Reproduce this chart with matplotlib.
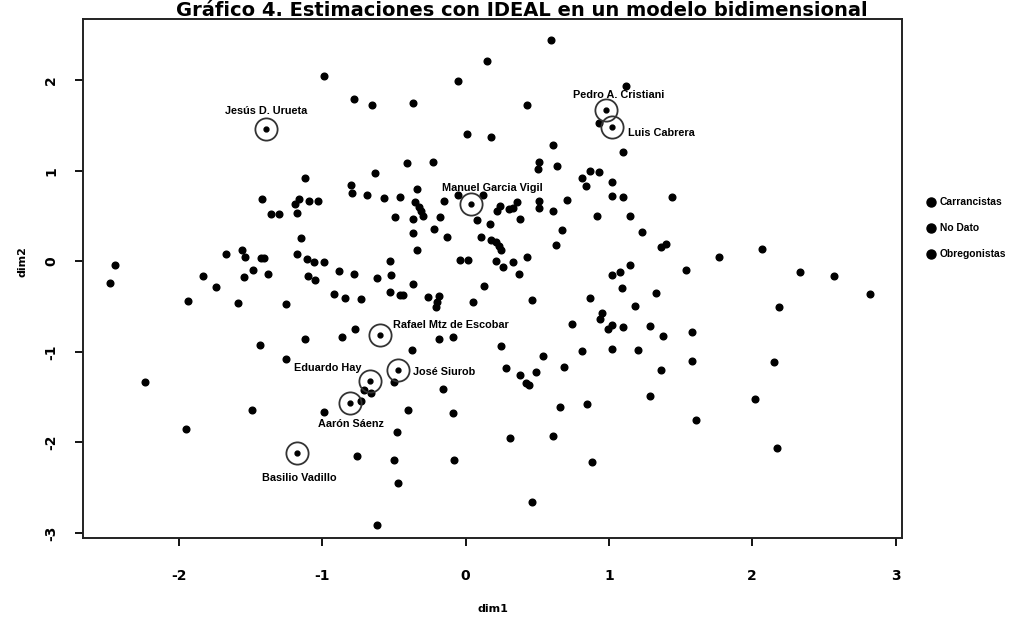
import matplotlib
matplotlib.use("Agg")
import matplotlib.pyplot as plt
from matplotlib.lines import Line2D

# ideal point estimates (dim1, dim2), unlabelled legislators
dim1 = [
    -0.99, 0.15, -0.05, -0.78, -0.65, -0.37, 0.01, 0.18, -0.41, -0.23,
    -0.63, -1.12, -0.80, -0.79, -0.69, -0.57, -0.46, -0.34, -1.42, -1.16,
    -1.19, -1.09, -1.03, -1.355, -1.30, -1.18, -0.35, -0.325, -0.31, -0.30,
    -0.15, -0.05, 0.12, -0.49, -0.37, -0.18, 0.08, 0.17, 0.22, 0.24,
    0.30, 0.33, 0.36, -0.37, -0.22, -0.13, 0.11, 0.18, 0.21, 0.23,
    0.25, -1.15, -0.34, -2.45, -2.48, -1.67, -1.56, -1.54, -1.43, -1.405,
    -1.18, -1.11, -1.06, -0.99, -0.53, -0.04, 0.016, 0.21, 0.26, 0.33,
    0.43, -1.83, -1.74, -1.55, -1.485, -1.38, -1.10, -1.05, -0.885, -0.78,
    -0.62, -0.52, -0.37, 0.13, 0.37, -1.94, -1.59, -1.25, -0.92, -0.84,
    -0.73, -0.53, -0.46, -0.44, -0.26, -0.185, -0.20, -0.21, 0.05, 0.46,
    0.595, 0.425, 1.12, 0.93, 0.61, 1.10, 0.51, 0.507, 0.64, 0.87,
    0.93, 0.81, 0.84, 1.02, 1.02, 1.095, 1.44, 0.71, 0.51, 0.51,
    0.61, 0.92, 1.15, 0.38, 0.67, 1.23, 0.63, 1.36, 1.40, 2.07,
    1.77, 1.02, 1.08, 1.15, 1.54, 2.33, 2.57, 2.82, 0.87, 1.09,
    1.33, 1.18, 2.19, 0.95, 0.94, 0.745, 0.99, 1.02, 1.10, 1.29,
    1.38, 1.58, -0.77, -0.86, -1.12, -1.435, -0.185, -0.09, 0.245, -0.375,
    -2.24, -1.25, -0.50, -0.71, -0.66, -0.16, -0.73, -0.99, -1.49, -0.40,
    -0.09, -1.95, -0.48, -0.76, -0.50, -0.08, -0.47, -0.62, 0.54, 0.81,
    0.685, 0.28, 0.38, 0.42, 0.44, 0.49, 1.02, 1.20, 1.58, 2.15,
    1.36, 1.285, 2.02, 0.85, 0.66, 1.61, 0.31, 0.61, 2.17, 0.885,
    0.46,
]
dim2 = [
    2.04, 2.21, 1.99, 1.79, 1.72, 1.75, 1.40, 1.37, 1.09, 1.10,
    0.97, 0.92, 0.84, 0.75, 0.73, 0.70, 0.71, 0.80, 0.69, 0.69,
    0.63, 0.66, 0.66, 0.52, 0.52, 0.53, 0.65, 0.60, 0.55, 0.50,
    0.66, 0.73, 0.73, 0.49, 0.47, 0.49, 0.46, 0.41, 0.55, 0.61,
    0.58, 0.59, 0.65, 0.31, 0.36, 0.27, 0.27, 0.24, 0.21, 0.17,
    0.13, 0.26, 0.13, -0.04, -0.24, 0.08, 0.13, 0.05, 0.04, 0.035,
    0.08, 0.03, -0.01, -0.01, 0.00, 0.01, 0.01, 0.00, -0.06, -0.01,
    0.05, -0.16, -0.28, -0.17, -0.10, -0.14, -0.16, -0.21, -0.11, -0.14,
    -0.18, -0.15, -0.25, -0.27, -0.14, -0.44, -0.46, -0.47, -0.36, -0.40,
    -0.415, -0.34, -0.37, -0.37, -0.39, -0.38, -0.445, -0.51, -0.45, -0.43,
    2.44, 1.72, 1.94, 1.53, 1.28, 1.21, 1.10, 1.015, 1.05, 1.00,
    0.99, 0.92, 0.835, 0.87, 0.72, 0.71, 0.71, 0.68, 0.66, 0.59,
    0.55, 0.50, 0.50, 0.47, 0.35, 0.32, 0.18, 0.16, 0.19, 0.14,
    0.05, -0.15, -0.12, -0.04, -0.10, -0.12, -0.16, -0.36, -0.41, -0.30,
    -0.35, -0.49, -0.51, -0.57, -0.64, -0.69, -0.75, -0.70, -0.73, -0.71,
    -0.82, -0.78, -0.75, -0.84, -0.86, -0.92, -0.86, -0.84, -0.94, -0.98,
    -1.33, -1.08, -1.33, -1.42, -1.45, -1.405, -1.545, -1.66, -1.64, -1.64,
    -1.675, -1.85, -1.88, -2.15, -2.19, -2.19, -2.45, -2.91, -1.05, -0.99,
    -1.17, -1.18, -1.26, -1.34, -1.37, -1.22, -0.97, -0.98, -1.10, -1.11,
    -1.20, -1.49, -1.515, -1.57, -1.61, -1.755, -1.95, -1.93, -2.06, -2.21,
    -2.66,
]

# highlighted legislators
names = ["Jesús D. Urueta", "Pedro A. Cristiani", "Luis Cabrera",
         "Manuel Garcia Vigil", "Rafael Mtz de Escobar", "Eduardo Hay",
         "José Siurob", "Aarón Sáenz", "Basilio Vadillo"]
names_x = [-1.395, 0.98, 1.02, 0.04, -0.60, -0.665, -0.47, -0.81, -1.18]
names_y = [1.46, 1.67, 1.48, 0.63, -0.81, -1.32, -1.20, -1.56, -2.12]

legend_labels = ["Carrancistas", "No Dato", "Obregonistas"]
xticks = [-2, -1, 0, 1, 2, 3]
yticks = [-3, -2, -1, 0, 1, 2]

# label offsets (points) and alignment for each name
offsets = [(0, 13), (9, 11), (12, -4), (15, 11.5), (9.5, 7),
           (-6.5, 9), (10.5, -1.5), (1, -15.5), (2, -17.5)]
aligns = ["center", "center", "left", "center", "left",
          "right", "left", "center", "center"]

fig = plt.figure(figsize=(10.19, 6.27), dpi=100)
ax = fig.add_axes([83 / 1019, 1 - 538 / 627, 819 / 1019, 519 / 627])

ax.plot(dim1, dim2, "o", color="black", markersize=4.8, linestyle="none")
ax.plot(names_x, names_y, "o", color="black", markersize=3.5, linestyle="none")
ax.plot(names_x, names_y, "o", markerfacecolor="none", markeredgecolor="#333333",
        markeredgewidth=1.3, markersize=16, linestyle="none")

for name, x, y, off, ha in zip(names, names_x, names_y, offsets, aligns):
    ax.annotate(name, (x, y), xytext=off, textcoords="offset points",
                ha=ha, va="center", fontsize=7.8, fontweight="bold",
                family="Liberation Sans")

ax.set_xlim(-2.67, 3.045)
ax.set_ylim(-3.054, 2.674)
ax.set_xticks(xticks)
ax.set_yticks(yticks)
ax.set_xticklabels([str(t) for t in xticks], fontsize=10, fontweight="bold")
ax.set_yticklabels([str(t) for t in yticks], fontsize=10, fontweight="bold",
                   rotation=90, va="center")
ax.tick_params(axis="x", direction="out", length=6, width=1.3, pad=16)
ax.tick_params(axis="y", direction="out", length=6, width=1.3, pad=12)
for s in ax.spines.values():
    s.set_linewidth(1.4)
    s.set_color("#222222")

ax.set_xlabel("dim1", fontsize=8, fontweight="bold")
ax.set_ylabel("dim2", fontsize=8, fontweight="bold")
ax.xaxis.set_label_coords(0.5, -0.128)
ax.yaxis.set_label_coords(-0.068, 0.532)

handles = [Line2D([], [], marker="o", color="black", linestyle="none",
                  markersize=6.5) for _ in legend_labels]
fig.legend(handles, legend_labels, loc="center left",
           bbox_to_anchor=(0.9, 0.636), frameon=False, handlelength=1.0,
           handletextpad=0.3, labelspacing=1.55,
           prop={"size": 7.4, "weight": "bold", "family": "Liberation Sans"})

fig.text(0.512, 1 - 16 / 627,
         "Gráfico 4. Estimaciones con IDEAL en un modelo bidimensional",
         ha="center", va="baseline", fontsize=14, fontweight="bold",
         family="DejaVu Sans")

fig.savefig("out.png", dpi=100)
